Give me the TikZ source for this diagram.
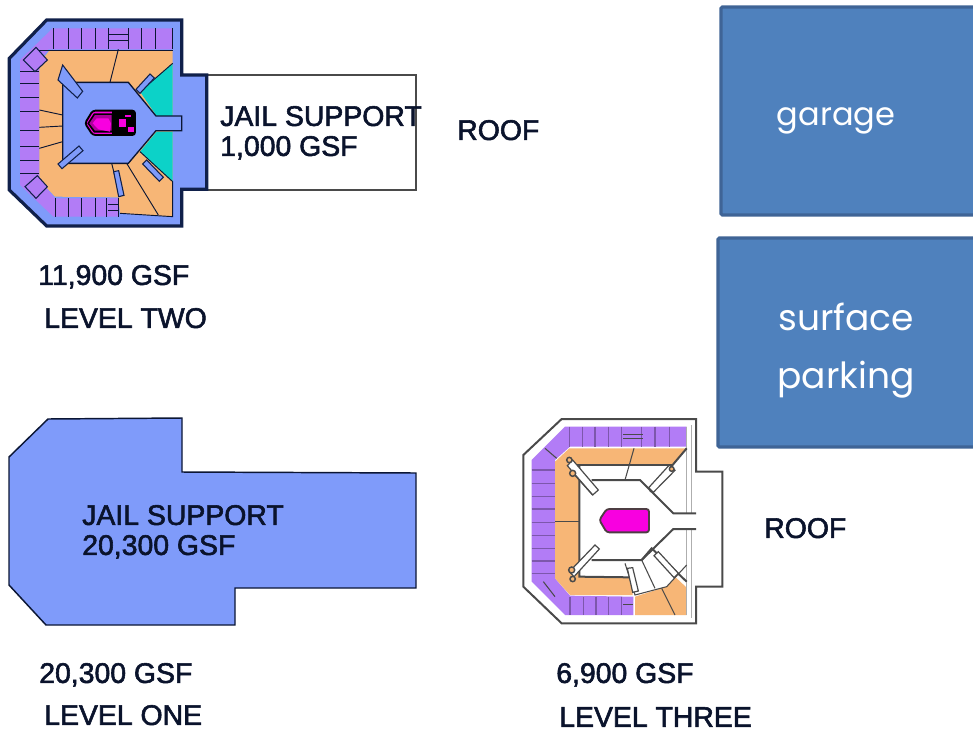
\documentclass[tikz,border=0pt]{standalone}
\usepackage{fontspec}
\setmainfont[FakeBold=2]{Liberation Sans}
\newfontfamily\boxfont{Poppins}
\usetikzlibrary{calc}
\definecolor{hallblue}{HTML}{7F9BFA}
\definecolor{cellpurple}{HTML}{B27CF6}
\definecolor{wardorange}{HTML}{F7B676}
\definecolor{yardcyan}{HTML}{0CD2C8}
\definecolor{coremagenta}{HTML}{F800E0}
\definecolor{darkline}{HTML}{10204A}
\definecolor{greyline}{HTML}{4A4A4A}
\definecolor{boxblue}{HTML}{4F81BD}
\definecolor{boxedge}{HTML}{3F6496}
\tikzset{
  plantext/.style={anchor=west,inner sep=0pt,text depth=0pt,font=\fontsize{21.3}{21.3}\selectfont,text=darkline!60!black},
  areabox/.style={draw=boxedge,line width=2.4pt,fill=boxblue,rounded corners=1pt},
  boxtext/.style={text=white,align=center,font=\boxfont\fontsize{27}{43.5}\selectfont},
  wallthick/.style={draw=darkline,line width=2.4pt},
  wallthin/.style={draw=darkline!70!black,line width=0.7pt},
  greywall/.style={draw=greyline,line width=1.5pt},
  greythin/.style={draw=greyline,line width=0.8pt},
  gallerytwo/.style={draw=darkline,line width=0.8pt,fill=hallblue},
  gallerythree/.style={draw=greyline,line width=0.9pt,fill=white}
}
\begin{document}
\begin{tikzpicture}[x=0.75pt,y=-0.75pt]
  \useasboundingbox (0,0) rectangle (973,735);
  \fill[white] (0,0) rectangle (973,735);

  \draw[areabox] (721,7) rectangle (980,215);
  \draw[areabox] (718,238) rectangle (980,447);
  \node[boxtext,font=\boxfont\fontsize{24}{30}\selectfont] (garage) at (836,121) {garage};
  \node[boxtext] (surface) at (846,351) {surface\\parking};

  \draw[wallthin,line width=1.1pt,fill=hallblue] (9,457) -- (48,419) -- (182,418) -- (182,472) -- (416,473) -- (416,588)
    -- (235,588) -- (235,625) -- (46,625) -- (9,585) -- cycle;

  \draw[greythin,line width=1pt,fill=white] (207,75) rectangle (416,190);

  \begin{scope}[shift={(0,10)},x=0.25pt,y=-0.25pt]
    \draw[wallthick,fill=hallblue] (28,145) -- (140,30) -- (545,30) -- (545,195) -- (620,195) -- (620,538)
      -- (545,538) -- (545,648) -- (140,648) -- (28,540) -- cycle;
    \fill[cellpurple] (60,150) -- (158,55) -- (518,55) -- (518,118) -- (145,118) -- (118,155) -- (118,510)
      -- (165,565) -- (355,565) -- (355,620) -- (160,620) -- (60,525) -- cycle;
    \fill[wardorange] (118,160) -- (148,122) -- (518,122) -- (518,620) -- (360,610) -- (355,562)
      -- (165,560) -- (118,510) -- cycle;
    \fill[yardcyan] (518,160) -- (420,245) -- (470,318) -- (518,318) -- cycle;
    \fill[yardcyan] (518,515) -- (420,425) -- (470,365) -- (518,365) -- cycle;
    \draw[wallthin,line width=1pt,fill=hallblue] (240,217) -- (385,217) -- (468,318) -- (545,318) -- (545,362)
      -- (468,362) -- (385,460) -- (188,460) -- (188,217) -- cycle;
    \foreach \x in {160,205,245,285,325,385,425,465,518}
      \draw[wallthin] (\x,55) -- (\x,118);
    \foreach \x in {165,205,245,285,320,355}
      \draw[wallthin] (\x,565) -- (\x,620);
    \foreach \y in {185,220,262,305,360,410,450,490}
      \draw[wallthin] (60,\y) -- (118,\y);
    \draw[wallthin] (325,72) -- (385,72) (325,92) -- (385,92);
    \draw[wallthin] (325,582) -- (355,582) (325,600) -- (355,600);
    \draw[gallerytwo,fill=cellpurple] (70,150) -- (108,112) -- (142,150) -- (105,185) -- cycle;
    \draw[gallerytwo,fill=cellpurple] (75,530) -- (112,497) -- (142,530) -- (108,565) -- cycle;
    \draw[wallthin] (118,122) -- (518,122);
    \draw[wallthin] (355,118) -- (330,217);
    \draw[wallthin] (118,300) -- (188,315) (118,352) -- (188,348) (118,415) -- (188,395);
    \draw[wallthin] (335,460) -- (360,560) (380,460) -- (475,615);
    \draw[wallthin] (360,610) -- (518,620) -- (518,515) -- (420,425);
    \draw[wallthin] (518,160) -- (420,245);
    \draw[gallerytwo] (188,165) -- (248,244) -- (232,264) -- (174,210) -- cycle;
    \draw[gallerytwo] (237,408) -- (249,422) -- (186,476) -- (174,462) -- cycle;
    \draw[gallerytwo] (450,192) -- (463,204) -- (420,250) -- (408,238) -- cycle;
    \draw[gallerytwo] (440,450) -- (490,502) -- (478,514) -- (428,462) -- cycle;
    \draw[gallerytwo] (341,485) -- (356,482) -- (372,556) -- (356,560) -- cycle;
    \draw[draw=black,line width=1.4pt,fill=coremagenta,rounded corners=2pt] (255,340) -- (278,302) -- (405,302)
      -- (405,375) -- (278,375) -- cycle;
    \fill[black] (335,304) -- (403,304) -- (403,373) -- (335,373) -- cycle;
    \fill[black] (262,340) -- (282,310) -- (340,310) -- (340,368) -- (282,368) -- cycle;
    \fill[coremagenta!70!black] (268,340) -- (285,315) -- (335,315) -- (335,362) -- (285,362) -- cycle;
    \fill[coremagenta] (278,340) -- (290,325) -- (325,325) -- (333,340) -- (330,365) -- (295,358) -- cycle;
    \fill[coremagenta] (358,328) -- (378,328) -- (378,350) -- (358,350) -- cycle;
    \fill[coremagenta] (375,315) -- (392,315) -- (392,322) -- (375,322) -- cycle;
    \fill[coremagenta] (385,352) -- (403,352) -- (403,365) -- (385,365) -- cycle;
  \end{scope}

  \begin{scope}[shift={(510,405)},x=0.25pt,y=-0.25pt]
    \draw[greywall,fill=white] (40,150) -- (155,42) -- (558,42) -- (558,200) -- (637,200) -- (637,545)
      -- (558,545) -- (558,655) -- (155,655) -- (40,545) -- cycle;
    \fill[cellpurple] (65,165) -- (165,65) -- (530,65) -- (530,125) -- (180,125) -- (135,165) -- (135,520)
      -- (180,572) -- (370,575) -- (370,630) -- (165,630) -- (65,530) -- cycle;
    \fill[wardorange] (135,170) -- (178,130) -- (530,130) -- (490,180) -- (208,180) -- (208,515) -- (365,517)
      -- (368,570) -- (180,570) -- (135,520) -- cycle;
    \fill[wardorange] (375,575) -- (470,545) -- (497,517) -- (530,548) -- (530,630) -- (375,630) -- cycle;
    \foreach \x in {178,218,255,295,335,395,435,478}
      \draw[greythin,draw=cellpurple!70!black] (\x,65) -- (\x,125);
    \foreach \x in {180,220,258,295,335}
      \draw[greythin,draw=cellpurple!70!black] (\x,575) -- (\x,630);
    \foreach \y in {195,235,275,312,352,392,430,468,505}
      \draw[greythin,draw=cellpurple!70!black] (65,\y) -- (135,\y);
    \draw[greythin,line width=1.2pt] (340,88) -- (398,88) (340,100) -- (398,100);
    \draw[greythin,line width=1.2pt] (340,598) -- (370,598);
    \draw[greythin] (105,130) -- (140,160) (100,530) -- (135,575);
    \draw[greythin] (135,350) -- (208,350);
    \draw[greythin] (372,130) -- (345,225);
    \draw[greythin,draw=greyline!45] (530,65) -- (530,325) (530,372) -- (530,630) (545,60) -- (545,325) (545,372) -- (545,640);
    \draw[greywall] (178,180) -- (490,180);
    \draw[greywall] (208,180) -- (208,515) -- (360,517);
    \draw[greywall] (245,225) -- (390,225) -- (490,325) -- (558,325);
    \draw[greywall] (558,372) -- (490,372) -- (395,465) -- (245,465);
    \draw[greywall] (530,130) -- (420,260) (395,465) -- (425,430) -- (530,530);
    \draw[greythin] (345,475) -- (375,570) -- (470,545) -- (530,480);
    \draw[greythin] (395,465) -- (435,550) (455,550) -- (495,630);
    \draw[gallerythree] (188,165) -- (265,255) -- (248,270) -- (172,182) -- cycle;
    \draw[gallerythree] (185,200) -- (248,270) (178,500) -- (255,420) -- (268,432) -- (192,515) -- cycle;
    \draw[gallerythree] (478,180) -- (495,196) -- (430,262) -- (416,248) -- cycle;
    \draw[gallerythree] (445,440) -- (505,505) -- (492,518) -- (432,452) -- cycle;
    \draw[gallerythree] (352,490) -- (368,488) -- (385,558) -- (368,562) -- cycle;
    \draw[greythin,line width=1.1pt,fill=wardorange] (178,165) circle (8) (188,205) circle (9)
      (185,495) circle (9) (188,522) circle (8) (485,192) circle (7);
    \draw[draw=black!80!magenta,line width=1.4pt,fill=coremagenta,rounded corners=2pt] (268,345) -- (290,312)
      -- (417,312) -- (417,382) -- (290,382) -- cycle;
  \end{scope}

  \node[plantext] (supporttwo) at (220,116) {JAIL SUPPORT};
  \node[plantext] (gsfsupporttwo) at (220,146) {1,000 GSF};
  \node[plantext] (rooftwo) at (457,130) {ROOF};
  \node[plantext] (gsftwo) at (38,275) {11,900 GSF};
  \node[plantext] (leveltwo) at (44,318) {LEVEL TWO};
  \node[plantext] (supportone) at (82,515) {JAIL SUPPORT};
  \node[plantext] (gsfsupportone) at (82,545) {20,300 GSF};
  \node[plantext] (gsfone) at (39,673) {20,300 GSF};
  \node[plantext] (levelone) at (44,715) {LEVEL ONE};
  \node[plantext] (gsfthree) at (556,673) {6,900 GSF};
  \node[plantext] (levelthree) at (559,717) {LEVEL THREE};
  \node[plantext] (roofthree) at (764,528) {ROOF};
\end{tikzpicture}
\end{document}
